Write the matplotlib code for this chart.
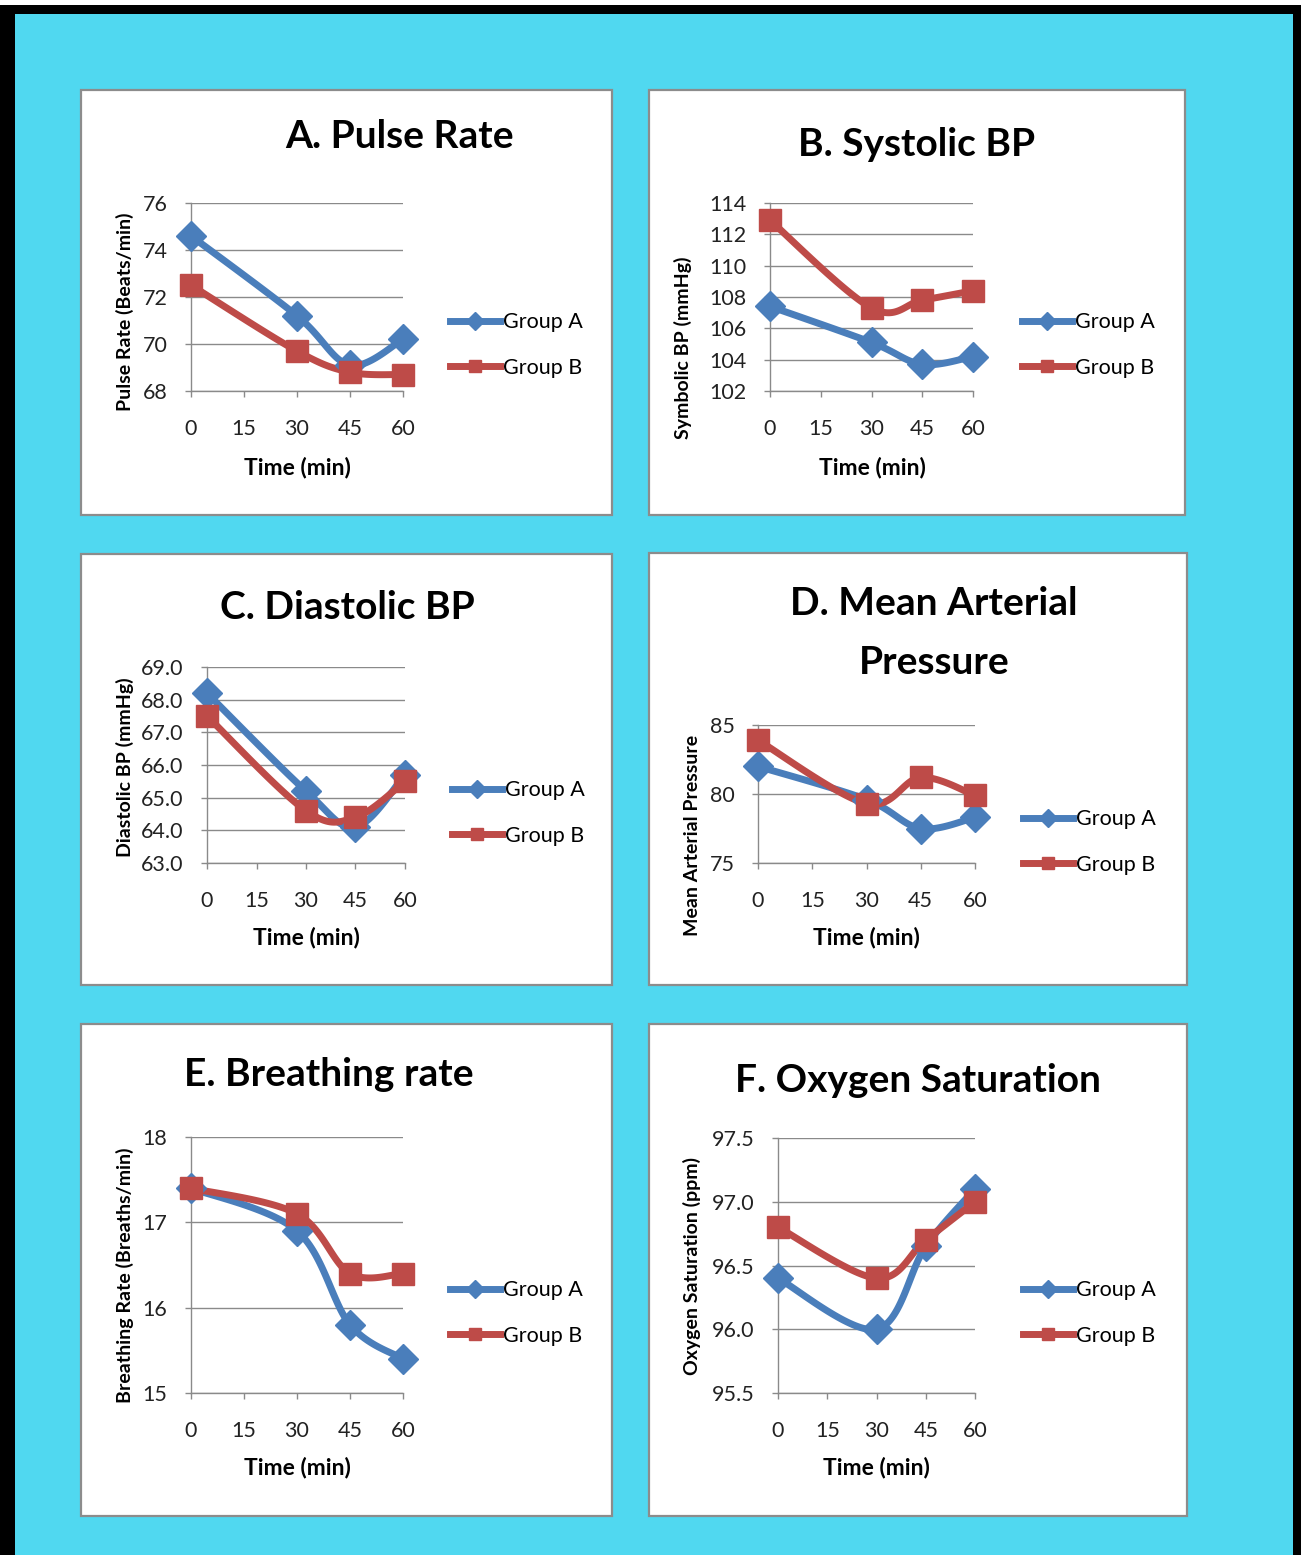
import numpy as np
import matplotlib
matplotlib.use("Agg")
import matplotlib.pyplot as plt
from matplotlib.patches import Rectangle
from matplotlib.lines import Line2D
from matplotlib.ticker import FormatStrFormatter

plt.rcParams['font.family'] = ['Lato', 'DejaVu Sans']

# Data
times = [0, 30, 45, 60]
x_ticks = [0, 15, 30, 45, 60]

pulse_a = [74.6, 71.2, 69.1, 70.2]
pulse_b = [72.5, 69.7, 68.8, 68.7]
sbp_a = [107.4, 105.1, 103.7, 104.2]
sbp_b = [112.9, 107.3, 107.8, 108.4]
dbp_a = [68.2, 65.2, 64.1, 65.7]
dbp_b = [67.5, 64.6, 64.4, 65.5]
map_a = [82.0, 79.6, 77.5, 78.3]
map_b = [83.9, 79.3, 81.2, 79.9]
br_a = [17.4, 16.9, 15.8, 15.4]
br_b = [17.4, 17.1, 16.4, 16.4]
spo2_a = [96.4, 96.0, 96.65, 97.1]
spo2_b = [96.8, 96.4, 96.7, 97.0]

group_labels = ["Group A", "Group B"]

W, H = 1301, 1555
BLUE = "#4a7ebb"
RED = "#be4b48"
GRID = "#8a8a8a"

fig = plt.figure(figsize=(W / 100, H / 100), dpi=100)
fig.patch.set_facecolor("white")


def frect(x0, y0, x1, y1, **kw):
    # rectangle given in pixel coords (top-left origin)
    r = Rectangle((x0 / W, 1 - y1 / H), (x1 - x0) / W, (y1 - y0) / H,
                  transform=fig.transFigure, **kw)
    fig.patches.append(r)


def ftext(x, y, s, **kw):
    fig.text(x / W, 1 - y / H, s, ha="center", va="center", **kw)


# background and black frame
frect(0, 5, W, H, facecolor="black", edgecolor="none", zorder=0)
frect(15, 14, 1293, H, facecolor="#50d8f0", edgecolor="none", zorder=0)


def smooth(x, y, n=40):
    # Excel-style smoothed line (Catmull-Rom bezier)
    pts = np.column_stack([x, y]).astype(float)
    ext = np.vstack([pts[0], pts, pts[-1]])
    out = []
    t = np.linspace(0, 1, n)[:, None]
    for i in range(len(pts) - 1):
        p0, p3 = ext[i + 1], ext[i + 2]
        c1 = p0 + (ext[i + 2] - ext[i]) / 6
        c2 = p3 - (ext[i + 3] - ext[i + 1]) / 6
        seg = ((1 - t) ** 3) * p0 + 3 * ((1 - t) ** 2) * t * c1 + 3 * (1 - t) * t ** 2 * c2 + t ** 3 * p3
        out.append(seg)
    seg = np.vstack(out)
    return seg[:, 0], seg[:, 1]


def panel(box, plot, title, title_pos, ylabel, ylabel_pos, xlabel_pos, legend_pos,
          ya, yb, ylim, ystep, yfmt):
    frect(*box, facecolor="white", edgecolor="#8c8c8c", lw=1.6, zorder=1)
    x0, y0, x1, y1 = plot
    ax = fig.add_axes([x0 / W, 1 - y1 / H, (x1 - x0) / W, (y1 - y0) / H])
    ax.set_facecolor("none")
    ax.set_zorder(2)

    for ys, color, marker, ms in [(ya, BLUE, "D", 15), (yb, RED, "s", 16.5)]:
        sx, sy = smooth(times, ys)
        ax.plot(sx, sy, color=color, lw=5, solid_capstyle="round", zorder=3, clip_on=False)
        ax.plot(times, ys, ls="none", marker=marker, ms=ms, mfc=color,
                mec=color, mew=1, zorder=4, clip_on=False)

    ax.set_xlim(0, 60)
    ax.set_ylim(*ylim)
    ax.set_xticks(x_ticks)
    ax.set_yticks(np.arange(ylim[0], ylim[1] + ystep / 2, ystep))
    ax.yaxis.set_major_formatter(FormatStrFormatter(yfmt))
    ax.grid(axis="y", color=GRID, lw=1)
    ax.set_axisbelow(True)
    for s in ["top", "right"]:
        ax.spines[s].set_visible(False)
    for s in ["left", "bottom"]:
        ax.spines[s].set_color(GRID)
        ax.spines[s].set_linewidth(1)
    ax.tick_params(axis="both", colors=GRID, length=4, width=1, labelsize=15.5,
                   labelcolor="#222222")
    ax.tick_params(axis="x", pad=16)
    ax.tick_params(axis="y", pad=13)

    if isinstance(title, list):
        for t, p in zip(title, title_pos):
            ftext(p[0], p[1] + 2, t, fontsize=28, fontweight="bold", color="black")
    else:
        ftext(title_pos[0], title_pos[1] + 2, title, fontsize=28, fontweight="bold", color="black")
    ftext(ylabel_pos[0], ylabel_pos[1], ylabel, fontsize=14, fontweight="bold",
          rotation=90, color="black")
    ftext(xlabel_pos[0], xlabel_pos[1], "Time (min)", fontsize=16.5, fontweight="bold",
          color="black")

    handles = [Line2D([], [], color=BLUE, lw=5, marker="D", ms=9, mfc=BLUE, mec=BLUE),
               Line2D([], [], color=RED, lw=5, marker="s", ms=9, mfc=RED, mec=RED)]
    lx, ly = legend_pos
    ax.legend(handles, group_labels, loc="center left",
              bbox_to_anchor=(lx / W, 1 - ly / H), bbox_transform=fig.transFigure,
              frameon=False, fontsize=15.5, handlelength=2.3, handletextpad=0.15,
              labelspacing=1.2, borderpad=0, borderaxespad=0)
    return ax


panel((81, 90, 612, 515), (191, 203, 403, 391), "A. Pulse Rate", (400, 135),
      "Pulse Rate (Beats/min)", (125, 312), (297, 467), (450, 345),
      pulse_a, pulse_b, (68, 76), 2, "%d")

panel((649, 90, 1185, 515), (770, 203, 973, 391), "B. Systolic BP", (917, 142),
      "Symbolic BP (mmHg)", (683, 348), (872, 467), (1022, 345),
      sbp_a, sbp_b, (102, 114), 2, "%d")

panel((81, 554, 612, 985), (207, 667, 405, 863), "C. Diastolic BP", (347, 606),
      "Diastolic BP (mmHg)", (125, 767), (306, 938), (452, 813),
      dbp_a, dbp_b, (63, 69), 1, "%.1f")

panel((649, 553, 1187, 985), (758, 725, 975, 863), ["D. Mean Arterial", "Pressure"],
      [(934, 602), (934, 660)],
      "Mean Arterial Pressure", (692, 835), (866, 938), (1023, 842),
      map_a, map_b, (75, 85), 5, "%d")

panel((81, 1024, 612, 1516), (191, 1137, 403, 1393), "E. Breathing rate", (329, 1073),
      "Breathing Rate (Breaths/min)", (125, 1275), (297, 1468), (450, 1313),
      br_a, br_b, (15, 18), 1, "%d")

panel((649, 1024, 1187, 1516), (778, 1138, 975, 1393), "F. Oxygen Saturation", (918, 1078),
      "Oxygen Saturation (ppm)", (692, 1266), (876, 1467), (1023, 1313),
      spo2_a, spo2_b, (95.5, 97.5), 0.5, "%.1f")

fig.savefig("out.png", dpi=100)
